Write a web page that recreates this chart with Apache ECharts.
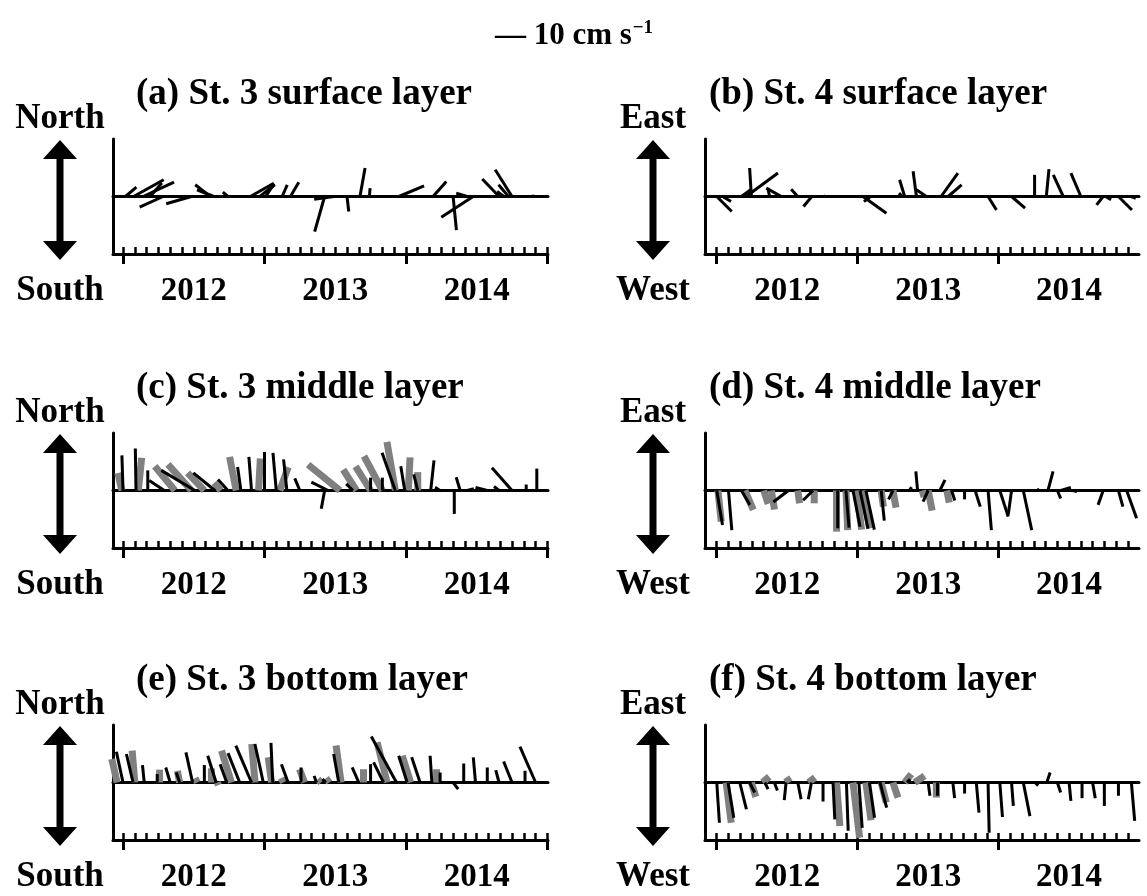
<!DOCTYPE html>
<html>
<head>
<meta charset="utf-8">
<title>Current vectors at St. 3 and St. 4</title>
<script src="https://cdn.jsdelivr.net/npm/echarts@6/dist/echarts.min.js"></script>
<style>
  html, body { margin: 0; padding: 0; background: #fff; }
  #chart { width: 1147px; height: 896px; }
</style>
</head>
<body>
<div id="chart"></div>
<script>
// Stick data: [month since Jan 2012, horizontal component, vertical component] in cm s^-1.
// St. 3: horizontal = eastward, vertical = northward.
// St. 4: vertical = eastward (East up / West down).
const st3Surface = [
  [0.2, 5, 4.2], [0.9, 13.6, 7.6], [1.7, 14, 6.5], [2.3, 5.3, 6.1], [3.4, -10.6, -4.8],
  [5.8, -11.4, -3.3], [7.4, -6.8, 5.3], [7.7, -7.6, 3], [8.9, -2.3, 2], [10.8, 10.6, 6],
  [11.6, 6.8, 5.3], [12.1, 3.8, 5.8], [13.5, 2.3, 5.3], [14.2, 3.8, 6.4], [17.1, -4.5, -15.9],
  [17.9, -9, -1.2], [19.0, 0.8, -6.8], [20.1, 2.3, 12.9], [20.9, 0.3, 3.8], [23.4, 11.4, 4.8],
  [26.3, 6, 6.8], [28.0, 1.5, -15.2], [29.2, -5, 1.5], [29.7, -14.4, -9.4], [31.9, -7.6, 7.9],
  [32.3, -3, 2.3], [32.7, -4.5, 5.3], [33.0, -7.6, 12.1], [34.8, 0, 0.8]
];
const st4Surface = [
  [0.0, 6.8, -6.8], [0.5, 3.8, -2.3], [2.1, 4.5, 3.3], [2.5, 14.4, 10.6], [2.95, -0.8, 12.9],
  [4.5, -0.8, 3.8], [5.5, -6.8, 3.8], [6.9, -3, 3.3], [8.1, -3.8, -4.5], [9.2, 0.4, 0.5],
  [10.3, 0.3, 0.4], [12.45, 10.6, -7.6], [13.1, -3, -2.3], [15.8, -1.5, 1.5], [16.0, -2.3, 7.6],
  [17.0, -1.5, 11.4], [17.85, -4.5, 3], [19.1, 7.6, 10.6], [19.7, 6.1, 5.3], [23.1, 3.8, -6.1],
  [25.1, 6.1, -5.3], [27.06, 0, 9.8], [28.06, 1.2, 12.4], [29.5, -4.5, 9.8], [31.0, -4.5, 10.6],
  [32.9, -3, -3.8], [33.1, 2.5, -1.5], [34.2, 6.1, -6.1], [35.3, 2, -0.8]
];
const st3MiddleBlack = [
  [0.0, -0.5, 15.9], [1.1, -0.3, 19], [2.1, 0, 9.1], [3.5, -6.8, 4.5], [6.1, -15.2, 9.1],
  [7.8, -9.8, 8], [8.9, -4.5, 5], [10.0, -1.5, 10.6], [10.9, -1.2, 15.2], [12.0, 0, 17.4],
  [13.0, -1.5, 17], [13.9, -1.5, 14.1], [15.0, -2.3, 5.5], [17.1, -1.5, -8.3], [17.4, -7.6, 3.8],
  [19.5, -3, 3], [21.0, 0, 5.8], [22.0, 0, 5.8], [23.1, -6, 17.1], [23.9, -1.8, 11],
  [25.0, -1.8, 7.3], [26.1, 1.5, 13.6], [26.9, -2.3, 1.4], [28.1, 0, -10.6], [28.6, -1.8, 6],
  [29.2, 3, 0.8], [30.9, -5.3, 1.4], [31.9, -2.3, 1.8], [33.0, -9.1, 10.3], [34.2, 0, 2.7],
  [35.1, 0, 9.9]
];
const st3MiddleGray = [
  [-0.1, -1.8, 7.9], [1.3, 1.5, 14.8], [4.4, -9.1, 11], [5.8, -10.6, 11.8], [6.9, -7.6, 8],
  [8.3, -3, 3.5], [9.6, -3, 15.2], [11.5, 0.8, 14.5], [13.3, 3.8, 10.6], [18.4, -14.4, 11.7],
  [19.8, -6, 9.4], [21.0, -6.8, 10.9], [22.0, -8.3, 15.5], [23.1, -3.8, 22], [24.2, 0.8, 15],
  [25.0, 0, 8.3]
];
const st4MiddleBlack = [
  [0.0, 2.6, -15.6], [1.0, 1.5, -17.9], [2.1, 3.8, -6.5], [6.1, -6.8, -5.2], [8.2, -4.5, -4.4],
  [10.3, 0, -17.1], [11.0, 1.4, -16.8], [11.6, 3.2, -16.4], [12.2, 3.6, -17.3], [12.7, 3.8, -17.7],
  [14.0, 1.4, -13.6], [15.0, -2, -4], [16.4, 1, 1.5], [17.1, -0.8, 8.6], [18.0, -2.3, -5],
  [19.0, 2.3, 4.8], [20.0, 1.4, -4.5], [21.1, 0, -4], [22.0, 2.3, -7.3], [23.1, 1.5, -17.9],
  [24.1, 3.8, -11.8], [25.1, -1.5, -10.9], [26.1, 3.8, -17.9], [27.3, 0.8, 0.8], [28.2, 2.3, 8.6],
  [29.0, 1.5, -3.6], [29.3, 4.5, 1.4], [30.3, 2, -0.5], [32.9, -2.3, -6.5], [34.2, 2, -7.3],
  [34.9, 4.5, -12.6]
];
const st4MiddleGray = [
  [0.1, 1.5, -14.1], [2.4, 3.8, -8.8], [4.0, 2, -6], [4.65, 1.4, -8.6], [6.9, 0.8, -5.8],
  [8.3, 0, -5.8], [10.2, 0, -18.6], [11.0, 0.8, -17.9], [11.9, 2.3, -17.7], [12.45, 3, -17.1],
  [14.0, 1, -7.3], [15.0, 1.4, -7.7], [17.5, 0.8, -3], [18.0, 1.8, -9.1], [19.6, 1, -5.5]
];
const st3BottomBlack = [
  [0.0, -3, 13.9], [0.85, -3, 12.9], [1.8, -0.8, 7.9], [2.9, 0, 3.8], [4.0, -2, 6.8],
  [4.8, -1.5, 4.5], [5.9, -3, 13.6], [6.9, 0, 7.9], [7.9, -3.8, 12.1], [8.8, -3, 8.3],
  [9.9, -5.3, 13.3], [10.9, -7.1, 16.7], [11.9, -3.8, 17.4], [12.7, -0.8, 17.9], [14.0, -3, 8.3],
  [15.1, 0, 6.8], [16.4, -1, 3], [17.2, -1.5, 1.5], [18.3, -2.3, 12.9], [20.0, -3, 6.8],
  [21.0, 0, 8.3], [22.1, -4.5, 9.1], [23.2, -11.4, 20.8], [24.1, -3.8, 12.1], [25.2, -3.8, 11.4],
  [26.2, -0.8, 12.1], [26.9, 0, 4.5], [28.0, 2.3, -3], [28.9, 0, 8.6], [29.9, -1, 11.4],
  [30.9, 0, 6.8], [31.9, -1.5, 5.6], [33.0, -3.8, 9.5], [34.1, 0, 5.3], [35.0, -7.1, 16.2]
];
const st3BottomGray = [
  [-0.5, -2.4, 10.6], [1.0, -1.2, 14.4], [3.1, 0, 5.8], [4.8, -1, 5.3], [6.3, -1, 2],
  [7.5, 0, 6.4], [8.0, 0.5, -1.2], [9.2, -4.5, 14.4], [11.2, -1.5, 17.4], [12.6, -1.5, 11.4],
  [13.6, -1, 2], [15.4, -2.3, 6], [16.8, -1.5, 1.5], [17.5, -1.5, 2], [18.5, -2.3, 16.7],
  [20.4, 0, 6], [22.4, -4.5, 18.2], [24.4, -3.8, 12.1], [26.6, 0, 6]
];
const st4BottomBlack = [
  [0.0, 1.2, -18.2], [0.96, 2.6, -15.9], [1.96, 3, -12.1], [2.8, 2.3, -4.5], [4.1, 1.4, -3],
  [4.9, 1.4, -3.6], [5.9, -0.8, -8], [6.9, 1.5, -7.6], [8.06, -1.4, -7.6], [9.05, 0, -8.6],
  [9.9, 0.8, -16.7], [11.04, 0.8, -21.8], [12.1, 1.5, -20.5], [13.0, 2.3, -15.9], [13.9, 3, -11.4],
  [16.2, 1.4, 1.5], [18.0, 0.8, -6], [18.8, 0, -6], [20.1, 0.8, -7.1], [21.1, 0, -5],
  [22.1, 1.2, -13.6], [23.1, 0.5, -22.7], [24.1, 1.2, -15.6], [25.1, 0.8, -10.6], [26.1, 3, -15.2],
  [27.1, 1.4, -1.4], [28.1, 1.5, 4.5], [29.0, 1.5, -4.5], [30.0, 0.8, -8.3], [31.1, 0, -7.1],
  [32.0, 1.2, -7.1], [33.0, 0, -10.6], [34.2, 0, -6], [35.3, 1.5, -17.4]
];
const st4BottomGray = [
  [0.8, 2.3, -18.2], [2.95, 2, -6.5], [3.9, 3, 2.6], [6.2, -1.5, 2.3], [7.8, 3, 2.3],
  [10.2, 1.5, -19.7], [11.6, 3, -25], [12.7, 2.3, -17.1], [14.0, 2.3, -9.1], [15.0, 2.3, -6.8],
  [16.0, 3, 3.8], [16.85, 4.5, 3], [18.7, 0, -6.8]
];

// Axis labelling
const yearLabels = ['2012', '2013', '2014'];
const yearTickMonths = [0, 12, 24, 36];
const yearLabelMonths = [6, 18, 30];
const monthTicks = Array.from({ length: 37 }, (_, i) => i);

const panels = [
  { title: '(a) St. 3 surface layer', col: 0, row: 0, up: 'North', down: 'South', black: st3Surface, gray: null },
  { title: '(b) St. 4 surface layer', col: 1, row: 0, up: 'East', down: 'West', black: st4Surface, gray: null },
  { title: '(c) St. 3 middle layer', col: 0, row: 1, up: 'North', down: 'South', black: st3MiddleBlack, gray: st3MiddleGray },
  { title: '(d) St. 4 middle layer', col: 1, row: 1, up: 'East', down: 'West', black: st4MiddleBlack, gray: st4MiddleGray },
  { title: '(e) St. 3 bottom layer', col: 0, row: 2, up: 'North', down: 'South', black: st3BottomBlack, gray: st3BottomGray },
  { title: '(f) St. 4 bottom layer', col: 1, row: 2, up: 'East', down: 'West', black: st4BottomBlack, gray: st4BottomGray }
];

// Layout
const FONT = '"Liberation Serif", "Times New Roman", serif';
const colLeft = [113, 705];
const colWidth = [435, 434];
const colMin = [-0.85, -1.0];
const colMax = [36.05, 35.95];
const rowTop = [139, 433, 725];
const rowHeight = 115;
const arrowX = [60, 653];
const titleX = [136, 709];
const V_LIMIT = 26;

const grids = [], xAxes = [], yAxes = [], series = [], graphics = [];

function stickRenderer(color, width) {
  return function (params, api) {
    const t = api.value(0), u = api.value(1), v = api.value(2);
    const base = api.coord([t, 0]);
    const tip = api.coord([t, v]);
    const pxPerUnit = base[1] - api.coord([t, 1])[1];
    return {
      type: 'line',
      shape: { x1: base[0], y1: base[1], x2: base[0] + u * pxPerUnit, y2: tip[1] },
      style: { stroke: color, lineWidth: width, lineCap: 'butt' }
    };
  };
}

panels.forEach((p, i) => {
  const left = colLeft[p.col], top = rowTop[p.row];
  grids.push({ left: left, top: top, width: colWidth[p.col], height: rowHeight, outerBoundsMode: 'none', containLabel: false });

  const common = { type: 'value', gridIndex: i, min: colMin[p.col], max: colMax[p.col], splitLine: { show: false } };
  // year ticks + labels
  xAxes.push(Object.assign({}, common, {
    position: 'bottom',
    axisLine: { show: true, onZero: false, lineStyle: { color: '#000', width: 3 } },
    axisTick: { show: true, inside: false, length: 10, customValues: yearTickMonths, lineStyle: { color: '#000', width: 3 } },
    axisLabel: {
      show: true, customValues: yearLabelMonths, margin: 21,
      formatter: (val) => yearLabels[Math.round((val - 6) / 12)],
      color: '#000', fontFamily: FONT, fontWeight: 'bold', fontSize: 33
    }
  }));
  // monthly ticks
  const minorIdx = xAxes.length;
  xAxes.push(Object.assign({}, common, {
    position: 'bottom',
    axisLine: { show: false, onZero: false },
    axisTick: { show: true, inside: true, length: 7, customValues: monthTicks, lineStyle: { color: '#000', width: 2.5 } },
    axisLabel: { show: false }
  }));
  // zero line
  xAxes.push(Object.assign({}, common, {
    position: 'bottom',
    axisLine: { show: true, onZero: true, lineStyle: { color: '#000', width: 3 } },
    axisTick: { show: false },
    axisLabel: { show: false }
  }));
  const xIdx = minorIdx - 1;
  yAxes.push({
    type: 'value', gridIndex: i, min: -V_LIMIT, max: V_LIMIT, position: 'left',
    axisLine: { show: true, onZero: false, lineStyle: { color: '#000', width: 3 } },
    axisTick: { show: false }, axisLabel: { show: false }, splitLine: { show: false }
  });

  if (p.gray) {
    series.push({
      type: 'custom', name: p.title + ' gray', xAxisIndex: xIdx, yAxisIndex: i,
      data: p.gray, renderItem: stickRenderer('#808080', 7), z: 2, silent: true
    });
  }
  series.push({
    type: 'custom', name: p.title, xAxisIndex: xIdx, yAxisIndex: i,
    data: p.black, renderItem: stickRenderer('#000000', 3), z: 3, silent: true
  });

  // panel title
  graphics.push({
    type: 'text', x: titleX[p.col], y: top - 45,
    style: { text: p.title, font: 'bold 37px ' + FONT, fill: '#000', align: 'left', verticalAlign: 'middle' }
  });
  // direction labels
  const ax = arrowX[p.col];
  graphics.push({
    type: 'text', x: ax, y: top - 20,
    style: { text: p.up, font: 'bold 35px ' + FONT, fill: '#000', align: 'center', verticalAlign: 'middle' }
  });
  graphics.push({
    type: 'text', x: ax, y: top + 152,
    style: { text: p.down, font: 'bold 35px ' + FONT, fill: '#000', align: 'center', verticalAlign: 'middle' }
  });
  // double-headed arrow
  const t0 = top + 1, t1 = top + 121, hw = 17, hh = 19, sw = 3.5;
  graphics.push({
    type: 'polygon',
    shape: { points: [
      [ax, t0], [ax + hw, t0 + hh], [ax + sw, t0 + hh], [ax + sw, t1 - hh], [ax + hw, t1 - hh],
      [ax, t1], [ax - hw, t1 - hh], [ax - sw, t1 - hh], [ax - sw, t0 + hh], [ax - hw, t0 + hh]
    ] },
    style: { fill: '#000' }
  });
});

// scale legend
graphics.push({
  type: 'text', x: 574, y: 35,
  style: {
    text: '{m|— 10 cm s}{s|−1}',
    align: 'center', verticalAlign: 'middle',
    rich: {
      m: { font: 'bold 31px ' + FONT, fill: '#000', verticalAlign: 'bottom' },
      s: { font: 'bold 19px ' + FONT, fill: '#000', verticalAlign: 'bottom', padding: [0, 0, 14, 1] }
    }
  }
});

const chart = echarts.init(document.getElementById('chart'), null, { renderer: 'canvas' });
chart.setOption({
  backgroundColor: '#ffffff',
  animation: false,
  grid: grids,
  xAxis: xAxes,
  yAxis: yAxes,
  series: series,
  graphic: graphics
});
</script>
</body>
</html>
